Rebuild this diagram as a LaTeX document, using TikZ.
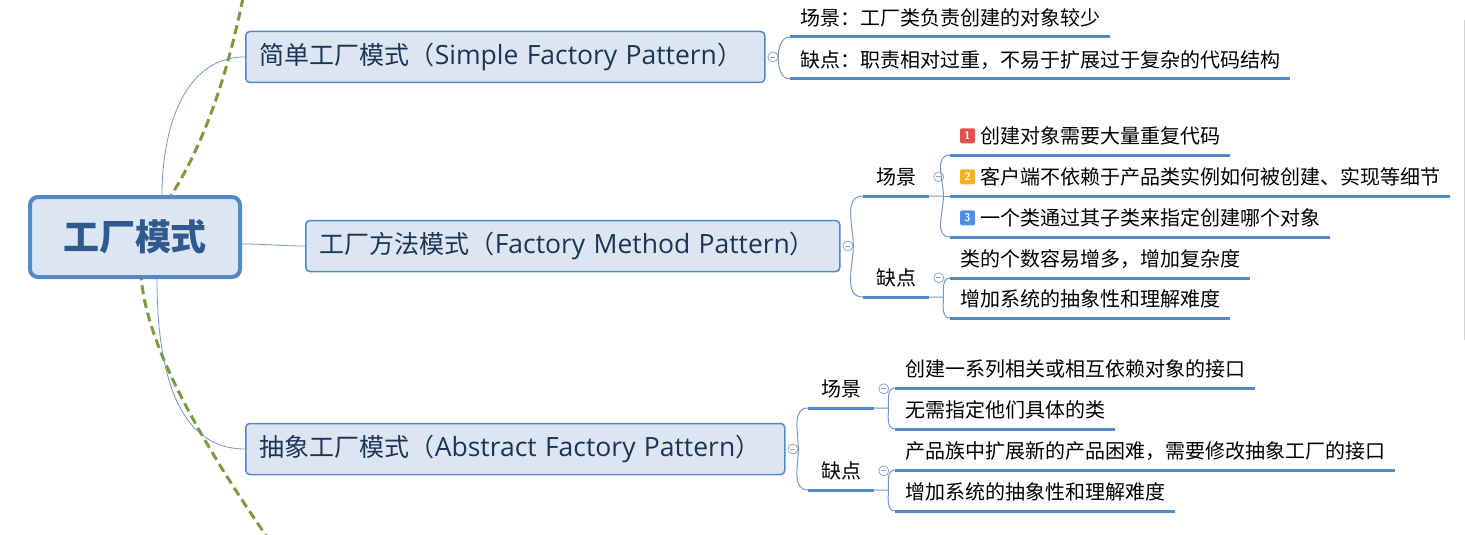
\documentclass[tikz,border=0pt]{standalone}
\usepackage{fontspec}
\newfontfamily\cjk{Noto Sans CJK SC}
\newfontfamily\latinsans{Open Sans}
\newcommand\lat[1]{{\latinsans\fontsize{26.5}{30}\selectfont #1}}
\usetikzlibrary{positioning}
\definecolor{boxfill}{HTML}{DCE6F2}
\definecolor{boxline}{HTML}{5588C6}
\definecolor{linkblue}{HTML}{7098CC}
\definecolor{branchtext}{HTML}{1C3557}
\definecolor{roottext}{HTML}{2E5A8E}
\definecolor{bound}{HTML}{7D9A3C}
\definecolor{foldgray}{HTML}{8DA6C6}
\definecolor{tagred}{HTML}{E2504C}
\definecolor{tagorange}{HTML}{F7B21C}
\definecolor{tagblue}{HTML}{4D8DEB}
\definecolor{edgegray}{HTML}{D4D4D4}

\begin{document}
\begin{tikzpicture}[x=1pt,y=-1pt,
  root/.style={draw=boxline,line width=4pt,fill=boxfill,rounded corners=8pt,
    minimum width=210pt,minimum height=80pt,text=roottext,
    font=\cjk\fontsize{36}{42}\selectfont\bfseries},
  branch/.style={draw=boxline,line width=1.5pt,fill=boxfill,rounded corners=4pt,
    anchor=west,inner xsep=14pt,minimum height=51pt,text=branchtext,
    text width=#1,align=left,font=\cjk\fontsize{25}{30}\selectfont},
  leaf/.style={anchor=south west,inner xsep=10pt,inner ysep=0pt,minimum height=38pt,
    font=\cjk\fontsize{20}{24}\selectfont},
  mid/.style={leaf,inner xsep=13pt},
  uline/.style={draw=boxline,line width=3pt},
  link/.style={draw=linkblue,line width=.8pt},
  bracket/.style={draw=linkblue,line width=1pt},
  fold/.style={circle,draw=foldgray,fill=white,line width=.8pt,minimum size=10pt,inner sep=0pt,
    path picture={\draw[foldgray,line width=.8pt] ([xshift=2.5pt]path picture bounding box.west)
      -- ([xshift=-2.5pt]path picture bounding box.east);}},
  tag/.style={fill=#1,rounded corners=2pt,minimum size=15pt,inner sep=0pt,text=white,
    font=\sffamily\bfseries\fontsize{11}{11}\selectfont}]
  \useasboundingbox (0,0) rectangle (1465,535);

  % boundary line behind the root
  \draw[bound,line width=3pt,dash pattern=on 9pt off 5pt]
    (243,-2) .. controls (222,100) and (195,160) .. (165,205)
    .. controls (148,230) and (138,260) .. (142,285)
    .. controls (150,350) and (200,440) .. (267,537);
  \draw[edgegray,line width=1pt] (1464,20) -- (1464,340);

  \node[root] (root) at (135,237) {工厂模式};
  \node[branch=491pt] (simple) at (245,57) {简单工厂模式（\lat{Simple Factory Pattern}）};
  \node[branch=506pt] (method) at (305,246) {工厂方法模式（\lat{Factory Method Pattern}）};
  \node[branch=511pt] (abstract) at (245,449) {抽象工厂模式（\lat{Abstract Factory Pattern}）};
  \node[fold,right=2pt of simple] (c1) {};
  \node[fold,right=2pt of method] (c2) {};
  \node[fold,right=2pt of abstract] (c3) {};

  \draw[link] ([xshift=27pt]root.north) to[out=90,in=180] (simple.west);
  \draw[link] ([yshift=-7pt]root.east) to[out=0,in=180] (method.west);
  \draw[link] ([xshift=22pt]root.south) to[out=-90,in=180] (abstract.west);

  % simple factory
  \node[leaf] (s1) at (790,37) {场景：工厂类负责创建的对象较少};
  \node[leaf] (s2) at (790,79) {缺点：职责相对过重，不易于扩展过于复杂的代码结构};
  \draw[bracket] (c1.east) to[out=90,in=180] (s1.south west);
  \draw[bracket] (c1.east) to[out=-90,in=180] (s2.south west);

  % factory method
  \node[mid] (fa) at (863,196) {场景};
  \node[mid] (fb) at (863,297) {缺点};
  \node[fold,right=4pt of fa] (cfa) {};
  \node[fold,right=4pt of fb] (cfb) {};
  \node[leaf] (f1) at (950,155) {\hspace{20pt}创建对象需要大量重复代码};
  \node[leaf] (f2) at (950,196) {\hspace{20pt}客户端不依赖于产品类实例如何被创建、实现等细节};
  \node[leaf] (f3) at (950,237) {\hspace{20pt}一个类通过其子类来指定创建哪个对象};
  \node[leaf] (f4) at (950,278) {类的个数容易增多，增加复杂度};
  \node[leaf] (f5) at (950,318) {增加系统的抽象性和理解难度};
  \node[tag=tagred] (t1) at ([xshift=17.5pt]f1.west) {1};
  \node[tag=tagorange] (t2) at ([xshift=17.5pt]f2.west) {2};
  \node[tag=tagblue] (t3) at ([xshift=17.5pt]f3.west) {3};
  \coordinate (ja) at ([xshift=14pt]fa.south east);
  \coordinate (jb) at ([xshift=14pt]fb.south east);
  \draw[bracket] (c2.east) to[out=90,in=180] (fa.south west);
  \draw[bracket] (c2.east) to[out=-90,in=180] (fb.south west);
  \draw[bracket] (fa.south east) -- (ja) to[out=90,in=180] (f1.south west);
  \draw[bracket] (ja) -- (f2.south west);
  \draw[bracket] (ja) to[out=-90,in=180] (f3.south west);
  \draw[bracket] (fb.south east) -- (jb) to[out=90,in=180] (f4.south west);
  \draw[bracket] (jb) to[out=-90,in=180] (f5.south west);

  % abstract factory
  \node[mid] (aa) at (808,408) {场景};
  \node[mid] (ab) at (808,490) {缺点};
  \node[fold,right=4pt of aa] (caa) {};
  \node[fold,right=4pt of ab] (cab) {};
  \node[leaf] (a1) at (895,388) {创建一系列相关或相互依赖对象的接口};
  \node[leaf] (a2) at (895,429) {无需指定他们具体的类};
  \node[leaf] (a3) at (895,470) {产品族中扩展新的产品困难，需要修改抽象工厂的接口};
  \node[leaf] (a4) at (895,511) {增加系统的抽象性和理解难度};
  \coordinate (jc) at ([xshift=14pt]aa.south east);
  \coordinate (jd) at ([xshift=14pt]ab.south east);
  \draw[bracket] (c3.east) to[out=90,in=180] (aa.south west);
  \draw[bracket] (c3.east) to[out=-90,in=180] (ab.south west);
  \draw[bracket] (aa.south east) -- (jc) to[out=90,in=180] (a1.south west);
  \draw[bracket] (jc) to[out=-90,in=180] (a2.south west);
  \draw[bracket] (ab.south east) -- (jd) to[out=90,in=180] (a3.south west);
  \draw[bracket] (jd) to[out=-90,in=180] (a4.south west);

  \foreach \n in {s1,s2,fa,fb,f1,f2,f3,f4,f5,aa,ab,a1,a2,a3,a4}
    \draw[uline] (\n.south west) -- (\n.south east);
\end{tikzpicture}
\end{document}
